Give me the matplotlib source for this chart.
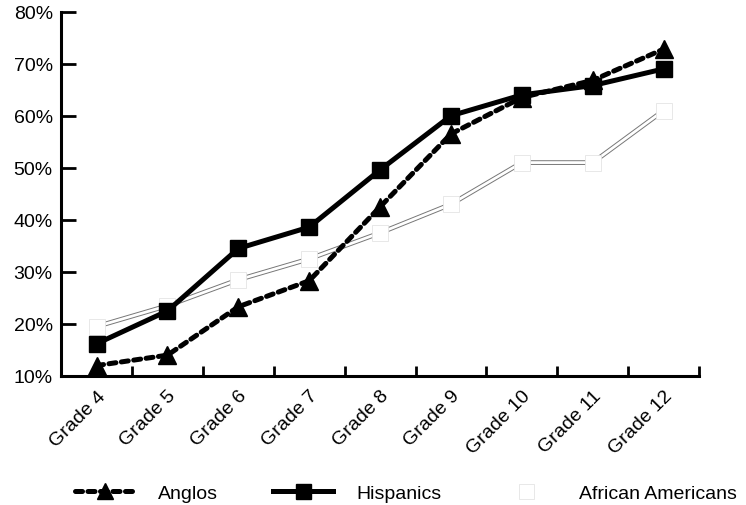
import matplotlib
matplotlib.use("Agg")
import matplotlib.pyplot as plt
import matplotlib.patheffects as pe
from matplotlib.ticker import FixedLocator, PercentFormatter

plt.rcParams['font.family'] = ['Liberation Sans', 'DejaVu Sans']

# Daten
grades = ['Grade 4', 'Grade 5', 'Grade 6', 'Grade 7', 'Grade 8',
          'Grade 9', 'Grade 10', 'Grade 11', 'Grade 12']
anglos = [12, 14, 23.3, 28.3, 42.5, 56.5, 63.5, 66.8, 72.8]
hispanics = [16.2, 22.5, 34.5, 38.6, 49.6, 60, 64, 65.8, 69]
african_americans = [19.5, 23.5, 28.5, 32.5, 37.5, 43, 51, 51, 61]
y_ticks = [10, 20, 30, 40, 50, 60, 70, 80]

x = list(range(len(grades)))

fig = plt.figure(figsize=(7.46, 5.06), dpi=100)
ax = fig.add_axes([0.082, 0.255, 0.855, 0.72])

# African Americans: hohle Doppellinie, Marker fast unsichtbar
ax.plot(x, african_americans, color='white', lw=2.0, zorder=2,
        path_effects=[pe.Stroke(linewidth=3.4, foreground='#777777'), pe.Normal()])
ax.plot(x, african_americans, linestyle='none', marker='s', ms=12,
        mfc='white', mec='#e4e4e4', mew=0.6, zorder=2.5,
        label='African Americans')

ax.plot(x, hispanics, color='black', lw=3.6, marker='s', ms=12,
        zorder=3, label='Hispanics')

ax.plot(x, anglos, color='black', lw=3.6, linestyle=(0, (1.4, 1.1)),
        dash_capstyle='round', marker='^', ms=13, zorder=4, label='Anglos')

ax.set_xlim(-0.5, len(grades) - 0.5)
ax.set_ylim(10, 80)

ax.set_xticks(x)
ax.set_xticklabels(grades, rotation=45, ha='right', rotation_mode='anchor', fontsize=14)
ax.tick_params(axis='x', which='major', length=0, pad=8)
ax.xaxis.set_minor_locator(FixedLocator([i + 0.5 for i in x]))
ax.tick_params(axis='x', which='minor', direction='in', length=7, width=2)

ax.set_yticks(y_ticks)
ax.yaxis.set_major_formatter(PercentFormatter(decimals=0))
ax.tick_params(axis='y', direction='in', length=11, width=2, labelsize=14, pad=6)

for s in ['top', 'right']:
    ax.spines[s].set_visible(False)
for s in ['left', 'bottom']:
    ax.spines[s].set_linewidth(2.2)

h, l = ax.get_legend_handles_labels()
fig.legend(h[::-1], l[::-1], ncol=3, loc='lower left', bbox_to_anchor=(0.1, 0.006),
           frameon=False, fontsize=14, handlelength=3.1, columnspacing=2.8,
           handletextpad=1.2, borderpad=0, borderaxespad=0, markerscale=0.9)

fig.savefig('out.png', dpi=100)
